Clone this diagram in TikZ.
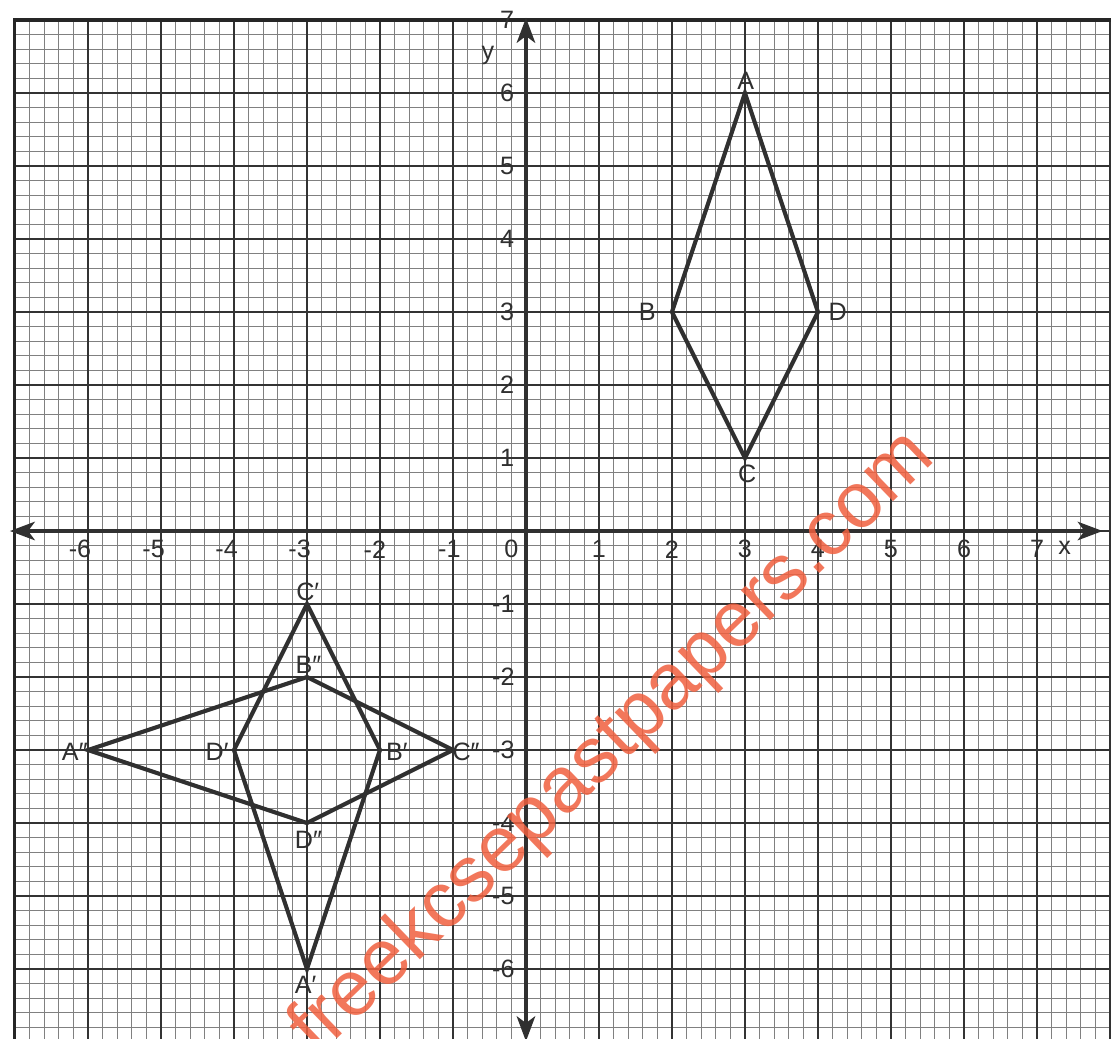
\documentclass[tikz,border=0pt]{standalone}
\usepackage{fontspec}
\setmainfont{Liberation Sans}
\usetikzlibrary{arrows.meta}
\definecolor{ink}{HTML}{303030}
\definecolor{wm}{HTML}{F0603F}
\begin{document}
\begin{tikzpicture}[
  minorline/.style={line width=0.5pt, draw=black!50},
  majorline/.style={line width=1pt, draw=black!80},
  axisline/.style={line width=1.7pt, draw=ink,
    {Stealth[length=3.4mm,width=2.5mm,inset=0.9mm]}-{Stealth[length=3.4mm,width=2.5mm,inset=0.9mm]}},
  shapeline/.style={line width=1.6pt, draw=ink, line join=miter},
  lbl/.style={inner sep=0pt, text=ink, font=\fontsize{9.8}{11}\selectfont},
  wmtext/.style={inner sep=0pt, text=wm, opacity=0.85, rotate=44, font=\fontsize{30.8}{32}\selectfont}
]
\useasboundingbox (-7.205,-6.945) rectangle (8.014,7.274);
\fill[white] (-7.205,-6.945) rectangle (8.014,7.274);

% graph paper: minor lines every 0.2, major every 1
\foreach \i in {-35,...,40}
  \draw[minorline] (\i/5,-7) -- (\i/5,7);
\foreach \j in {-35,...,35}
  \draw[minorline] (-7,\j/5) -- (8.1,\j/5);
\foreach \i in {-7,...,8}
  \draw[majorline] (\i,-7) -- (\i,7);
\foreach \j in {-7,...,7}
  \draw[majorline] (-7,\j) -- (8.1,\j);
\draw[line width=1.2pt, draw=black!85] (-7,-7) -- (-7,7) -- (8.1,7);

% axes
\coordinate (xl) at (-7.07,0);
\coordinate (xr) at (7.90,0);
\coordinate (yt) at (0,7.03);
\coordinate (yb) at (0,-6.99);
\draw[axisline] (xl) -- (xr);
\draw[axisline] (yb) -- (yt);

% axis numbers
\foreach \n/\px in {6/-6.11,5/-5.10,4/-4.10,3/-3.10,2/-2.07,1/-1.05}
  \node[lbl] (xn\n) at (\px,-0.25) {-\n};
\node[lbl] (x0) at (-0.2,-0.25) {0};
\foreach \n in {1,...,7}
  \node[lbl] (xp\n) at (\n,-0.25) {\n};
\node[lbl] (xlab) at (7.38,-0.23) {x};
\foreach \n in {1,...,7}
  \node[lbl] (yp\n) at (-0.26,\n) {\n};
\node[lbl] (ylab) at (-0.52,6.52) {y};
\foreach \n in {1,...,6}
  \node[lbl] (yn\n) at (-0.31,-\n) {-\n};

% rhombus ABCD
\coordinate (A) at (3,6);
\coordinate (B) at (2,3);
\coordinate (C) at (3,1);
\coordinate (D) at (4,3);
\draw[shapeline] (A) -- (B) -- (C) -- (D) -- cycle;
\node[lbl] (lA) at (3.01,6.16) {A};
\node[lbl] (lB) at (1.66,3.0) {B};
\node[lbl] (lC) at (3.03,0.78) {C};
\node[lbl] (lD) at (4.27,3.0) {D};

% image A'B'C'D'
\coordinate (A1) at (-3,-6);
\coordinate (B1) at (-2,-3);
\coordinate (C1) at (-3,-1);
\coordinate (D1) at (-4,-3);
\draw[shapeline] (A1) -- (B1) -- (C1) -- (D1) -- cycle;
\node[lbl] (lA1) at (-3.02,-6.21) {A′};
\node[lbl] (lB1) at (-1.77,-3.03) {B′};
\node[lbl] (lC1) at (-2.99,-0.84) {C′};
\node[lbl] (lD1) at (-4.23,-3.03) {D′};

% image A''B''C''D''
\coordinate (A2) at (-6,-3);
\coordinate (B2) at (-3,-2);
\coordinate (C2) at (-1,-3);
\coordinate (D2) at (-3,-4);
\draw[shapeline] (A2) -- (B2) -- (C2) -- (D2) -- cycle;
\node[lbl] (lA2) at (-6.18,-3.03) {A″};
\node[lbl] (lB2) at (-2.98,-1.84) {B″};
\node[lbl] (lC2) at (-0.82,-3.03) {C″};
\node[lbl] (lD2) at (-2.98,-4.23) {D″};

% watermark
\node[wmtext] (wmark) at (1.2,-2.92) {freekcsepastpapers.com};
\end{tikzpicture}
\end{document}
